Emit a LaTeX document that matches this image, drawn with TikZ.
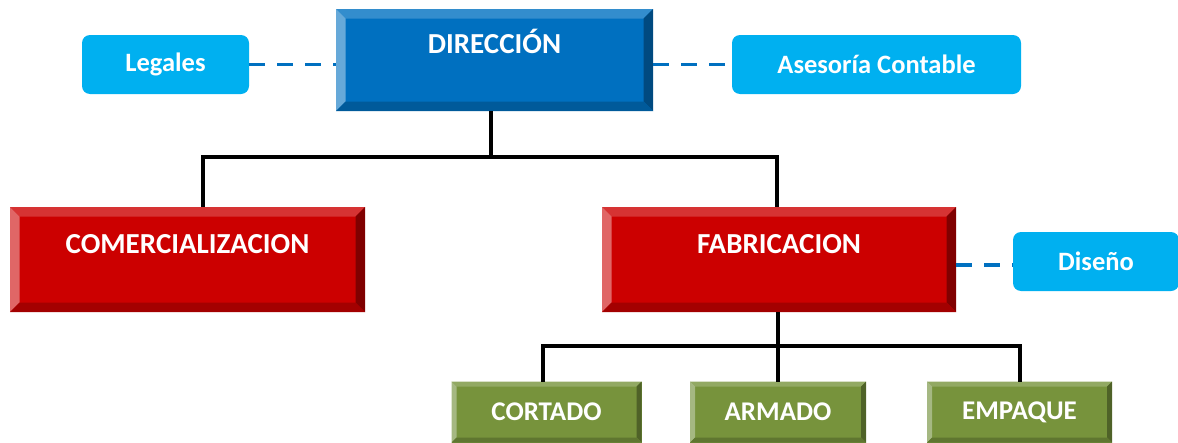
\documentclass[tikz,border=0pt]{standalone}
\usepackage{fontspec}
\setmainfont{Carlito}
\definecolor{dmain}{HTML}{0070C0}
\definecolor{dtop}{HTML}{338DCD}
\definecolor{dleft}{HTML}{66A9D9}
\definecolor{dright}{HTML}{004A80}
\definecolor{dbot}{HTML}{005A9A}
\definecolor{rmain}{HTML}{CC0000}
\definecolor{rtop}{HTML}{D63333}
\definecolor{rleft}{HTML}{E06666}
\definecolor{rright}{HTML}{800000}
\definecolor{rbot}{HTML}{A30000}
\definecolor{gmain}{HTML}{77933C}
\definecolor{gtop}{HTML}{92A963}
\definecolor{gleft}{HTML}{A5B882}
\definecolor{gright}{HTML}{4F6228}
\definecolor{gbot}{HTML}{5F7630}
\definecolor{lblue}{HTML}{00B0F0}
\definecolor{dashblue}{HTML}{0070C0}
\newcommand\bevelfill[5]{%
  \coordinate (bNW) at (path picture bounding box.north west);
  \coordinate (bNE) at (path picture bounding box.north east);
  \coordinate (bSW) at (path picture bounding box.south west);
  \coordinate (bSE) at (path picture bounding box.south east);
  \fill[#2] (bNW) -- (bNE) -- ([xshift=-#1,yshift=-#1]bNE) -- ([xshift=#1,yshift=-#1]bNW) -- cycle;
  \fill[#3] (bNW) -- ([xshift=#1,yshift=-#1]bNW) -- ([xshift=#1,yshift=#1]bSW) -- (bSW) -- cycle;
  \fill[#4] (bNE) -- (bSE) -- ([xshift=-#1,yshift=#1]bSE) -- ([xshift=-#1,yshift=-#1]bNE) -- cycle;
  \fill[#5] (bSW) -- ([xshift=#1,yshift=#1]bSW) -- ([xshift=-#1,yshift=#1]bSE) -- (bSE) -- cycle;
}
\tikzset{
  bevelbox/.style n args={6}{fill=#2, inner sep=0pt, outer sep=0pt,
    path picture={\bevelfill{#1}{#3}{#4}{#5}{#6}}},
  bluebox/.style={bevelbox={9.5pt}{dmain}{dtop}{dleft}{dright}{dbot}},
  redbox/.style={bevelbox={9.5pt}{rmain}{rtop}{rleft}{rright}{rbot}},
  greenbox/.style={bevelbox={5pt}{gmain}{gtop}{gleft}{gright}{gbot},
    minimum height=61pt, text=white, font=\bfseries\fontsize{27}{31}\selectfont},
  bigtext/.style={text=white, anchor=base, inner sep=0pt, font=\bfseries\fontsize{29}{34}\selectfont},
  sidebox/.style={fill=lblue, rounded corners=8pt, minimum height=59pt, inner sep=0pt,
    text=white, font=\bfseries\fontsize{26.5}{31}\selectfont},
  tree/.style={line width=3.5pt, black},
  dashline/.style={line width=3.5pt, dashblue, dash pattern=on 16pt off 12pt},
}
\begin{document}
\begin{tikzpicture}[x=1pt,y=-1pt]
\useasboundingbox (0,0) rectangle (1178,442);
% boxes
\node[bluebox, minimum width=317pt, minimum height=102pt] (dir) at (494.5,60) {};
\node[bigtext] (dirT) at ([yshift=-44pt]dir.north) {DIRECCIÓN};
\node[sidebox, minimum width=167pt] (leg) at (165.5,64.5) {Legales};
\node[sidebox, minimum width=289pt] (ase) at (876.5,64.5) {Asesoría Contable};
\node[redbox, minimum width=355pt, minimum height=105pt] (com) at (187.5,259.5) {};
\node[bigtext] (comT) at ([yshift=-46pt]com.north) {COMERCIALIZACION};
\node[redbox, minimum width=354pt, minimum height=105pt] (fab) at (779,259.5) {};
\node[bigtext] (fabT) at ([yshift=-46pt]fab.north) {FABRICACION};
\node[sidebox, minimum width=166pt] (dis) at (1096,261.5) {Diseño};
\node[greenbox, minimum width=190pt] (cor) at (546.5,412) {CORTADO};
\node[greenbox, minimum width=176pt] (arm) at (778,412) {ARMADO};
\node[greenbox, minimum width=185pt] (emp) at (1019.5,412) {EMPAQUE};
% tree connectors
\coordinate (b1) at (491,157);
\coordinate (b2) at (778,346);
\coordinate (dl) at (0,265);
\draw[tree] (dir.south -| b1) -- (b1);
\draw[tree] ([xshift=15.5pt]com.north) |- (b1) -| ([xshift=-2pt]fab.north);
\draw[tree] (fab.south -| b2) -- (arm.north);
\draw[tree] ([xshift=-3.5pt]cor.north) |- (b2) -| ([xshift=0.5pt]emp.north);
% dashed connectors
\draw[dashline] (leg.east) -- (leg.east -| dir.west);
\draw[dashline] (dir.east |- ase.west) -- (ase.west);
\draw[dashline] (fab.east |- dl) -- (dis.west |- dl);
\end{tikzpicture}
\end{document}
